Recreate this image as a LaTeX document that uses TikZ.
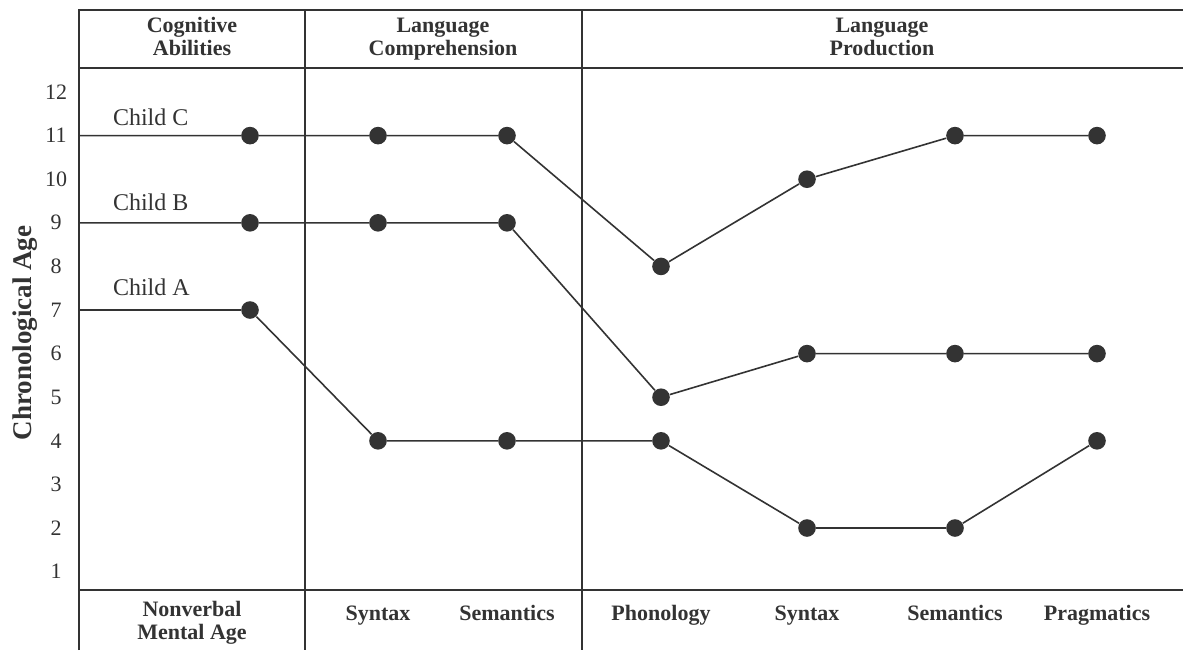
\documentclass[tikz,border=0pt]{standalone}
\usepackage{fontspec}
\setmainfont{Liberation Serif}
\usetikzlibrary{positioning, calc}
\definecolor{ink}{HTML}{333333}

\begin{document}
\begin{tikzpicture}[x=0.5pt, y=-0.5pt,
  declare function={age(\v)=92+(12-\v)*43.6;},
  dot/.style={circle, fill=ink, inner sep=0pt, minimum size=8.8pt},
  frame/.style={draw=ink, line width=1.2pt},
  divider/.style={draw=ink, line width=0.9pt},
  link/.style={draw=ink, line width=0.8pt},
  head/.style={font=\fontsize{11}{11.5}\selectfont\bfseries, align=center, text=ink,
    execute at begin node=\strut, execute at end node=\strut},
  ticklab/.style={font=\fontsize{11}{12}\selectfont, text=ink},
  childlab/.style={font=\fontsize{12}{13}\selectfont, text=ink, anchor=west}]
  \useasboundingbox (0,0) rectangle (1183,650);

  % frame and column rules
  \draw[frame] (79,650) -- (79,10) -- (1183,10);
  \draw[frame] (79,68) -- (1183,68);
  \draw[frame] (79,590) -- (1183,590);
  \draw[divider] (305,10) -- (305,650);
  \draw[divider] (582,10) -- (582,650);

  % headers
  \node[head] (hcog) at (192,40) {Cognitive\\Abilities};
  \node[head] (hcomp) at (443,40) {Language\\Comprehension};
  \node[head] (hprod) at (882,40) {Language\\Production};

  % categories
  \node[head] (fnv) at (192,624) {Nonverbal\\Mental Age};
  \node[head] (fcs) at (378,616) {Syntax};
  \node[head] (fcm) at (507,616) {Semantics};
  \node[head] (fpp) at (661,616) {Phonology};
  \node[head] (fps) at (807,616) {Syntax};
  \node[head] (fpm) at (955,616) {Semantics};
  \node[head] (fpg) at (1097,616) {Pragmatics};

  % age axis
  \foreach \v in {1,...,12}
    \node[ticklab] (t\v) at (56,{age(\v)}) {\v};
  \node[font=\fontsize{13.5}{14}\selectfont\bfseries, text=ink, rotate=90] (yaxis) at (25,333) {Chronological Age};

  % children
  \node[childlab] (la) at (106,287) {Child A};
  \node[childlab] (lb) at (106,202) {Child B};
  \node[childlab] (lc) at (106,117) {Child C};

  \coordinate (a0) at (79,{age(7)});
  \coordinate (b0) at (79,{age(9)});
  \coordinate (c0) at (79,{age(11)});
  \foreach \i/\xc/\va/\vb/\vc in {1/250/7/9/11, 2/378/4/9/11, 3/507/4/9/11,
      4/661/4/5/8, 5/807/2/6/10, 6/955/2/6/11, 7/1097/4/6/11} {
    \node[dot] (a\i) at (\xc,{age(\va)}) {};
    \node[dot] (b\i) at (\xc,{age(\vb)}) {};
    \node[dot] (c\i) at (\xc,{age(\vc)}) {};
  }
  \draw[link] (a0) -- (a1) -- (a2) -- (a3) -- (a4) -- (a5) -- (a6) -- (a7);
  \draw[link] (b0) -- (b1) -- (b2) -- (b3) -- (b4) -- (b5) -- (b6) -- (b7);
  \draw[link] (c0) -- (c1) -- (c2) -- (c3) -- (c4) -- (c5) -- (c6) -- (c7);
\end{tikzpicture}
\end{document}
